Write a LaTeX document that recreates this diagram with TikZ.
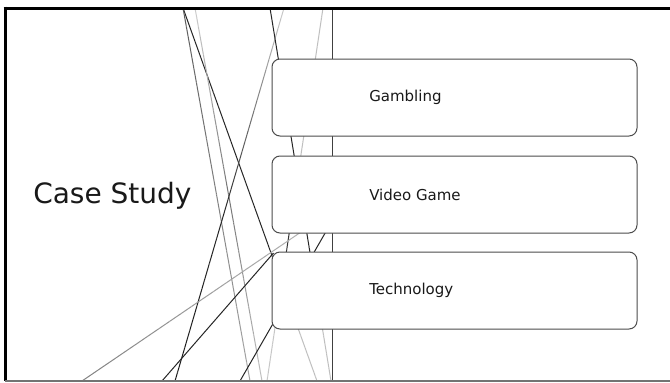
\documentclass[tikz,border=0pt]{standalone}
\usepackage{fontspec}
\setmainfont{DejaVu Sans}
\usetikzlibrary{calc}
\tikzset{
  box/.style={draw=black!70, line width=0.75pt, fill=white, rounded corners=6pt,
    minimum width=273.75pt, minimum height=57.75pt, inner sep=0pt},
  boxtext/.style={anchor=west, inner sep=0pt, text=black!90,
    font=\fontsize{11.25}{13}\selectfont},
  titletext/.style={anchor=west, inner sep=0pt, text=black!90,
    font=\fontsize{21}{25}\selectfont},
  deco/.style={line width=0.75pt, line cap=butt},
  frameline/.style={line width=2.25pt, draw=black},
}
% straight segment from (#1) at fraction #2 to fraction #3 of the way to (#4),
% darkness fading from #5 to #6 percent
\newcommand{\fadeseg}[6]{%
  \foreach \k in {1,...,20}{%
    \pgfmathtruncatemacro{\dk}{#5+(#6-#5)*(\k-0.5)/20}%
    \pgfmathsetmacro{\ta}{#2+(#3-#2)*(\k-1)/20}%
    \pgfmathsetmacro{\tb}{#2+(#3-#2)*\k/20}%
    \draw[deco, draw=black!\dk] ($(#1)!\ta!(#4)$) -- ($(#1)!\tb!(#4)$);
  }}
\begin{document}
\begin{tikzpicture}[x=0.75pt, y=-0.75pt]
\useasboundingbox (0,0) rectangle (670,382);
\fill[white] (0,0) rectangle (670,382);

% end points of the background lines
\coordinate (At) at (183,8);   \coordinate (Ab) at (317,381);
\coordinate (Gt) at (183,8);   \coordinate (Gb) at (250,381);
\coordinate (Ht) at (195,8);   \coordinate (Hb) at (262,381);
\coordinate (Ct) at (284,8);   \coordinate (Cb) at (175,381);
\coordinate (Lt) at (270,8);   \coordinate (Lb) at (331,381);
\coordinate (Bt) at (323,8);   \coordinate (Bb) at (267,381);
\coordinate (Ub) at (82,381);  \coordinate (Ut) at (301,232);
\coordinate (Vb) at (162,381); \coordinate (Vt) at (273.5,253);
\coordinate (Wt) at (347,195); \coordinate (Wb) at (240,381);
\coordinate (Xt) at (332,8);   \coordinate (Xb) at (332,381);

% background lines
\fadeseg{At}{0}{0.756}{Ab}{85}{85}
\fadeseg{At}{0.756}{1}{Ab}{25}{25}
\fadeseg{Gt}{0}{1}{Gb}{65}{35}
\fadeseg{Ht}{0}{0.5}{Hb}{20}{55}
\fadeseg{Ht}{0.5}{1}{Hb}{55}{25}
\fadeseg{Ct}{0}{0.55}{Cb}{20}{85}
\fadeseg{Ct}{0.55}{1}{Cb}{85}{90}
\fadeseg{Lt}{0}{0.756}{Lb}{85}{85}
\fadeseg{Lt}{0.756}{1}{Lb}{25}{25}
\fadeseg{Bt}{0}{0.515}{Bb}{25}{25}
\fadeseg{Bt}{0.515}{0.756}{Bb}{80}{80}
\fadeseg{Bt}{0.756}{1}{Bb}{22}{22}
\fadeseg{Ub}{0}{1}{Ut}{50}{30}
\draw[deco, draw=black!85] (Vb) -- (Vt);
\draw[deco, draw=black!85] (Wt) -- (Wb);
\draw[deco, draw=black!75] (Xt) -- (Xb);

% boxes
\node[box] (gam) at (454.5,97.5) {};
\node[box] (vid) at (454.5,194.5) {};
\node[box] (tec) at (454.5,290.5) {};
\node[boxtext] (gamt) at (369,97.5) {Gambling};
\node[boxtext] (vidt) at (369,194.5) {Video Game};
\node[boxtext] (tect) at (369,290.5) {Technology};

% title
\node[titletext] (title) at (33,196) {Case Study};

% frame
\coordinate (f1) at (3.5,8);
\coordinate (f2) at (670,8);
\coordinate (f3) at (5,6.5);
\coordinate (f4) at (5,381);
\coordinate (f5) at (670,381);
\draw[frameline] (f1) -- (f2);
\draw[frameline] (f3) -- (f4);
\draw[line width=1.5pt, draw=black!55] (f4) -- (f5);
\end{tikzpicture}
\end{document}
